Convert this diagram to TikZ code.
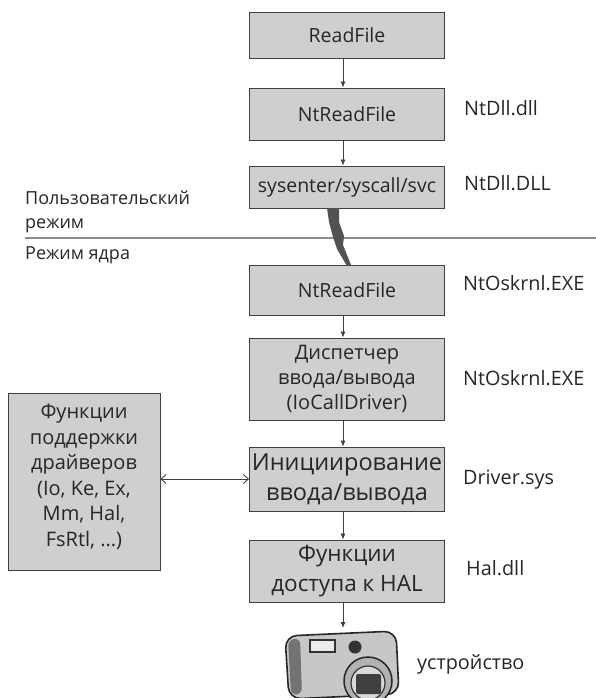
\documentclass[tikz,border=0pt]{standalone}
\usepackage{fontspec}
\setmainfont{Open Sans}
\usetikzlibrary{arrows.meta}

\begin{document}
\begin{tikzpicture}[x=1pt,y=-1pt,
  blk/.style={draw=black!75, line width=0.9pt, fill=black!19, text=black!85,
    align=center, inner sep=0pt, font=\fontsize{19.5}{25}\selectfont},
  lbl/.style={text=black!85, anchor=west, inner sep=0pt,
    font=\fontsize{19.8}{24}\selectfont},
  flow/.style={draw=black!75, line width=0.8pt, -{Latex[length=6pt,width=5pt]}},
  both/.style={draw=black!75, line width=0.9pt,
    {Straight Barb[length=5pt,width=9pt]}-{Straight Barb[length=5pt,width=9pt]}},
]
\useasboundingbox (0,0) rectangle (596,698);

% user-mode chain
\node[blk, minimum width=195pt, minimum height=46pt] (rf)  at (347,35)  {ReadFile};
\node[blk, minimum width=195pt, minimum height=52pt] (nt1) at (347,114) {NtReadFile};
\node[blk, minimum width=195pt, minimum height=42pt] (sys) at (347,187) {sysenter/syscall/svc};

% kernel-mode chain
\node[blk, minimum width=195pt, minimum height=50pt] (nt2)  at (347,290) {NtReadFile};
\node[blk, minimum width=195pt, minimum height=82pt,
  font=\fontsize{20}{25}\selectfont] (disp) at (347,379)
  {Диспетчер\\ввода/вывода\\(IoCallDriver)};
\node[blk, minimum width=195pt, minimum height=64pt,
  font=\fontsize{23.5}{30}\selectfont] (init) at (347,479)
  {Инициирование\\ввода/вывода};
\node[blk, minimum width=195pt, minimum height=62pt,
  font=\fontsize{22.5}{30}\selectfont] (hal) at (347,571)
  {Функции\\доступа к HAL};

% support routines: box, then its text set a little above centre
\node[blk, minimum width=152pt, minimum height=177pt] (sup) at (84,481.5) {};
\node[text=black!85, align=center, inner sep=0pt,
  font=\fontsize{20}{25.5}\selectfont] (suptxt) at (84,477)
  {Функции\\поддержки\\драйверов\\(Io, Ke, Ex,\\Mm, Hal,\\FsRtl, ...)};

% module names
\node[lbl] (l1) at (464,108) {NtDll.dll};
\node[lbl] (l2) at (464,183) {NtDll.DLL};
\node[lbl] (l3) at (463,283) {NtOskrnl.EXE};
\node[lbl] (l4) at (463,378) {NtOskrnl.EXE};
\node[lbl] (l5) at (463,480) {Driver.sys};
\node[lbl] (l6) at (466,568) {Hal.dll};
\node[lbl] (l7) at (417,664) {устройство};

% mode boundary
\draw[black!45, line width=2.6pt] (25,238) -- (596,238);
\node[lbl, anchor=west, align=left, font=\fontsize{18}{24}\selectfont] (um) at (25,212)
  {Пользовательский\\режим};
\node[lbl, font=\fontsize{18}{24}\selectfont] (km) at (25,255) {Режим ядра};

% transition into the kernel
\fill[black!68] (327,208) -- (339,208) -- (339,222) -- (344,236) -- (343,245)
  -- (351,265) -- (347,266) -- (337,249) -- (333,237) -- (329,222) -- cycle;

% device
\coordinate (cam) at (343,628);
\begin{scope}
  \clip (0,0) rectangle (596,698);
  \draw[black!85, line width=1.6pt, fill=black!22, rounded corners=12pt]
    (285,636) -- (396,631) -- (399,694) -- (289,699) -- cycle;
  \fill[black!55, rounded corners=6pt] (288,640) -- (300,638) -- (302,694) -- (291,695) -- cycle;
  \draw[black!80, line width=1.2pt, fill=black!8] (310,640) rectangle (335,652);
  \fill[black!80] (355,647) circle (6.5pt);
  \draw[black!85, line width=1.5pt, fill=black!30] (368,681) circle (24pt);
  \draw[black!80, line width=1.2pt, fill=black!15] (368,683) circle (17pt);
  \fill[black!75, rounded corners=2pt] (356,674) rectangle (381,694);
\end{scope}

% call flow
\draw[flow] ([xshift=-4pt]rf.south)   -- ([xshift=-4pt]nt1.north);
\draw[flow] ([xshift=-4pt]nt1.south)  -- ([xshift=-4pt]sys.north);
\draw[flow] ([xshift=-4pt]nt2.south)  -- ([xshift=-4pt]disp.north);
\draw[flow] ([xshift=-4pt]disp.south) -- ([xshift=-4pt]init.north);
\draw[flow] ([xshift=-4pt]init.south) -- ([xshift=-4pt]hal.north);
\draw[flow] ([xshift=-4pt]hal.south)  -- (cam);
\draw[both] (sup.east |- init.west) -- (init.west);
\end{tikzpicture}
\end{document}
